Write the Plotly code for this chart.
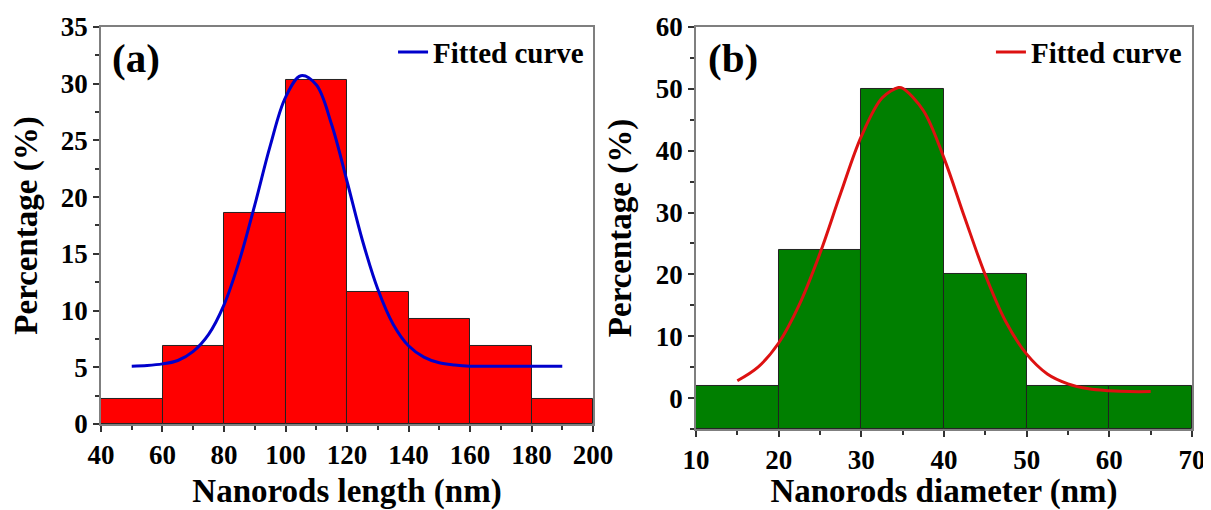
import plotly.graph_objects as go

# ---- data ----
len_bin_centers = [50, 70, 90, 110, 130, 150, 170, 190]
len_percent = [2.2, 6.9, 18.6, 30.3, 11.6, 9.3, 6.9, 2.2]
len_bin_width = 20

len_fit_x = [50, 55, 60, 65, 70, 75, 80, 85, 90, 95, 100, 105, 110, 115, 120, 125,
             130, 135, 140, 145, 150, 155, 160, 165, 170, 175, 180, 185, 190]
len_fit_y = [5.1, 5.16, 5.3, 5.6, 6.4, 7.9, 10.5, 14.4, 19.3, 24.5, 28.8, 30.7, 29.9,
             26.4, 21.4, 16.2, 11.9, 8.8, 6.9, 5.9, 5.4, 5.2, 5.1, 5.1, 5.1, 5.1,
             5.1, 5.1, 5.1]

dia_bin_centers = [15, 25, 35, 45, 55, 65]
dia_percent = [2.0, 24.0, 50.0, 20.0, 2.0, 2.0]
dia_bin_width = 10
dia_base = -5

dia_fit_x = [15, 17.5, 20, 22.5, 25, 27.5, 30, 32.5, 34.5, 35, 37.5, 40, 42.5, 45,
             47.5, 50, 52.5, 55, 57.5, 60, 62.5, 65]
dia_fit_y = [2.8, 5.0, 8.9, 15.1, 23.4, 33.1, 42.3, 48.5, 50.2, 50.1, 46.5, 38.8,
             29.2, 19.9, 12.3, 7.1, 3.9, 2.3, 1.5, 1.2, 1.05, 1.05]

FONT = "Liberation Serif"

fig = go.Figure()

fig.add_trace(go.Bar(
    x=len_bin_centers, y=len_percent, width=len_bin_width,
    marker=dict(color="#FF0000", line=dict(color="#222222", width=1)),
    showlegend=False, xaxis="x", yaxis="y"))
fig.add_trace(go.Scatter(
    x=len_fit_x, y=len_fit_y, mode="lines", line=dict(color="#0000CC", width=3, shape="spline"),
    name="Fitted curve", xaxis="x", yaxis="y", legend="legend"))

fig.add_trace(go.Bar(
    x=dia_bin_centers, y=[v - dia_base for v in dia_percent], base=dia_base, width=dia_bin_width,
    marker=dict(color="#007F00", line=dict(color="#222222", width=1)),
    showlegend=False, xaxis="x2", yaxis="y2"))
fig.add_trace(go.Scatter(
    x=dia_fit_x, y=dia_fit_y, mode="lines", line=dict(color="#DD1111", width=3, shape="spline"),
    name="Fitted curve", xaxis="x2", yaxis="y2", legend="legend2"))

tickfont = dict(family=FONT, size=27, color="black", weight="bold")
titlefont = dict(family=FONT, size=33, color="black", weight="bold")
legfont = dict(family=FONT, size=29, color="black", weight="bold")

common = dict(showgrid=False, zeroline=False, showline=True, linecolor="#7F7F7F",
              linewidth=1.5, mirror=True, ticks="outside", ticklen=6, tickcolor="#333333",
              tickwidth=1.5, tickfont=tickfont, automargin=False)

fig.update_layout(
    width=1203, height=502,
    margin=dict(l=0, r=0, t=0, b=0),
    paper_bgcolor="white", plot_bgcolor="white",
    bargap=0,
    xaxis=dict(domain=[0.0773, 0.4863], range=[40, 200], dtick=20, tick0=40,
               minor=dict(ticks="outside", ticklen=4, dtick=10, tickcolor="#333333"),
               title=dict(text="Nanorods length (nm)", font=titlefont, standoff=10),
               anchor="y", **common),
    yaxis=dict(domain=[0.1713, 0.9622], range=[0, 35], dtick=5, tick0=0,
               minor=dict(ticks="outside", ticklen=4, dtick=2.5, tickcolor="#333333"),
               title=dict(text="Percentage (%)", font=titlefont, standoff=14),
               anchor="x", **common),
    xaxis2=dict(domain=[0.5719, 0.9842], range=[10, 70], dtick=10, tick0=10,
                minor=dict(ticks="outside", ticklen=4, dtick=5, tickcolor="#333333"),
                title=dict(text="Nanorods diameter (nm)", font=titlefont, standoff=10),
                anchor="y2", **common),
    yaxis2=dict(domain=[0.1614, 0.9622], range=[-5, 60], dtick=10, tick0=0,
                minor=dict(ticks="outside", ticklen=4, dtick=5, tick0=-5, tickcolor="#333333"),
                title=dict(text="Percentage (%)", font=titlefont, standoff=14),
                anchor="x2", **common),
    legend=dict(x=0.483, y=0.912, xanchor="right", yanchor="middle", bgcolor="rgba(0,0,0,0)",
                font=legfont),
    legend2=dict(x=0.980, y=0.912, xanchor="right", yanchor="middle", bgcolor="rgba(0,0,0,0)",
                 font=legfont),
    annotations=[
        dict(text="(a)", xref="paper", yref="paper", x=0.0848, y=0.9004, xanchor="left",
             yanchor="middle", showarrow=False,
             font=dict(family=FONT, size=41, color="black", weight="bold")),
        dict(text="(b)", xref="paper", yref="paper", x=0.5802, y=0.9004, xanchor="left",
             yanchor="middle", showarrow=False,
             font=dict(family=FONT, size=41, color="black", weight="bold")),
    ],
)

fig.write_html("out.html")
